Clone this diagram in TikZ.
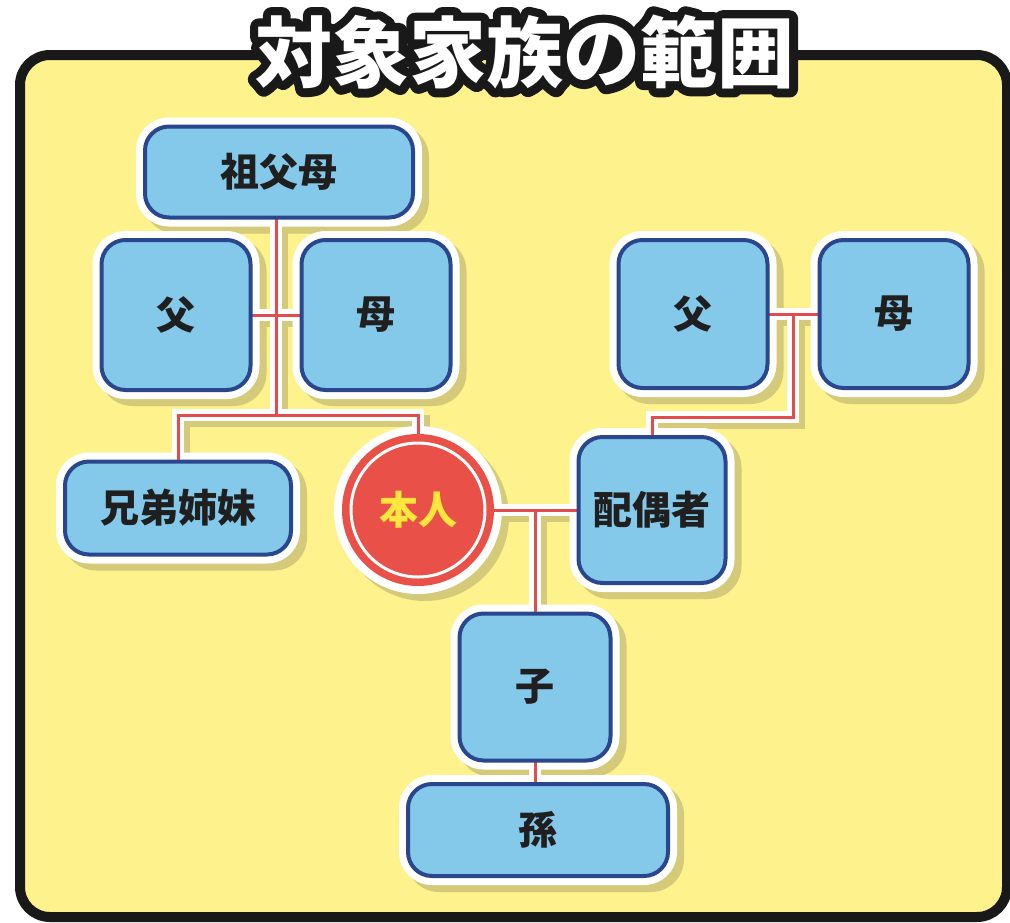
\documentclass[tikz,border=0pt]{standalone}
\usepackage{fontspec}
\newfontfamily\jp{Noto Sans CJK JP}
\usetikzlibrary{calc}
\definecolor{bgy}{RGB}{254,242,140}
\definecolor{boxblue}{RGB}{132,200,234}
\definecolor{boxedge}{RGB}{42,70,140}
\definecolor{shadowc}{RGB}{212,202,122}
\definecolor{redline}{RGB}{226,76,76}
\definecolor{circred}{RGB}{232,80,72}
\definecolor{selftext}{RGB}{255,230,60}
\pgfdeclarelayer{bg}\pgfdeclarelayer{shd}\pgfdeclarelayer{halo}\pgfdeclarelayer{lines}
\pgfsetlayers{bg,shd,halo,lines,main}
\newcommand\deco[1]{%
\begin{pgfonlayer}{shd}
\fill[shadowc, rounded corners=33pt] ([shift={(-2,16)}]#1.south west) rectangle ([shift={(16,-2)}]#1.north east);
\end{pgfonlayer}
\begin{pgfonlayer}{halo}
\fill[white, rounded corners=33pt] ([shift={(-9,9)}]#1.south west) rectangle ([shift={(9,-9)}]#1.north east);
\end{pgfonlayer}}
\newcommand\conn[1]{%
\begin{pgfonlayer}{shd}\draw[shadowc, line width=12pt, transform canvas={shift={(6pt,-6pt)}}] #1;\end{pgfonlayer}
\begin{pgfonlayer}{halo}\draw[white, line width=12pt] #1;\end{pgfonlayer}
\begin{pgfonlayer}{lines}\draw[redline, line width=3pt] #1;\end{pgfonlayer}}
\newcommand\strokeon{\special{pdf:literal direct 2 Tr 1 j 1 J 17 w}}
\newcommand\strokeoff{\special{pdf:literal direct 0 Tr 1 w}}
\begin{document}
\begin{tikzpicture}[x=1pt,y=-1pt,
  fam/.style={draw=boxedge, fill=boxblue, line width=4pt, rounded corners=24pt,
    inner sep=0pt, outer sep=0pt, font=\jp\bfseries\fontsize{39}{42}\selectfont, text=black!88},
  ttl/.style={inner sep=0pt, font=\jp\bfseries\fontsize{77}{80}\selectfont}]
\useasboundingbox (0,0) rectangle (1010,922);
\begin{pgfonlayer}{bg}
\fill[white] (0,0) rectangle (1010,922);
\draw[black!90, line width=10pt, fill=bgy, rounded corners=30pt] (20,55) rectangle (1007,917);
\end{pgfonlayer}
% nodes
\node[fam, minimum width=268pt, minimum height=91pt] (gp) at (279,172) {祖父母};
\node[fam, minimum width=149pt, minimum height=150pt] (f1) at (176,315) {父};
\node[fam, minimum width=149pt, minimum height=150pt] (m1) at (376,315) {母};
\node[fam, minimum width=226pt, minimum height=93pt] (sib) at (178,508) {兄弟姉妹};
\node[circle, fill=circred, minimum size=152pt, inner sep=0pt, outer sep=0pt,
  font=\jp\bfseries\fontsize{39}{42}\selectfont, text=selftext] (self) at (418,510) {本人};
\node[fam, minimum width=147pt, minimum height=146pt] (sp) at (652,510) {配偶者};
\node[fam, minimum width=149pt, minimum height=148pt] (f2) at (693,314) {父};
\node[fam, minimum width=149pt, minimum height=148pt] (m2) at (894,314) {母};
\node[fam, minimum width=151pt, minimum height=147pt] (ch) at (535,687) {子};
\node[fam, minimum width=260pt, minimum height=92pt] (gc) at (538,830) {孫};
\draw[white, line width=3pt] (self.center) circle (67);
\deco{gp}\deco{f1}\deco{m1}\deco{sib}\deco{sp}\deco{f2}\deco{m2}\deco{ch}\deco{gc}
\begin{pgfonlayer}{shd}
\fill[shadowc] ([shift={(7,7)}]self.center) circle (84);
\end{pgfonlayer}
\begin{pgfonlayer}{halo}
\fill[white] (self.center) circle (84);
\end{pgfonlayer}
% connectors
\coordinate (j1) at (276,415);
\coordinate (j3) at (793,314);
\coordinate (j4) at (652,417);
\coordinate (j2) at (535,510);
\conn{(j1 |- gp.south) -- (j1)}
\conn{(f1.east) -- (m1.west)}
\conn{(self.north) |- (j1) -| (sib.north)}
\conn{(self.east) -- (sp.west)}
\conn{(j2) -- (ch.north)}
\conn{(ch.south) -- (ch.south |- gc.north)}
\conn{(f2.east) -- (m2.west)}
\conn{(j3) |- (j4) -- (sp.north)}
% title: black stroked copy under white text
\node[ttl, text=black!90] (titleoutline) at (525,52) {\strokeon 対象家族の範囲\strokeoff};
\node[ttl, text=white] (title) at (525,52) {対象家族の範囲};
\end{tikzpicture}
\end{document}
